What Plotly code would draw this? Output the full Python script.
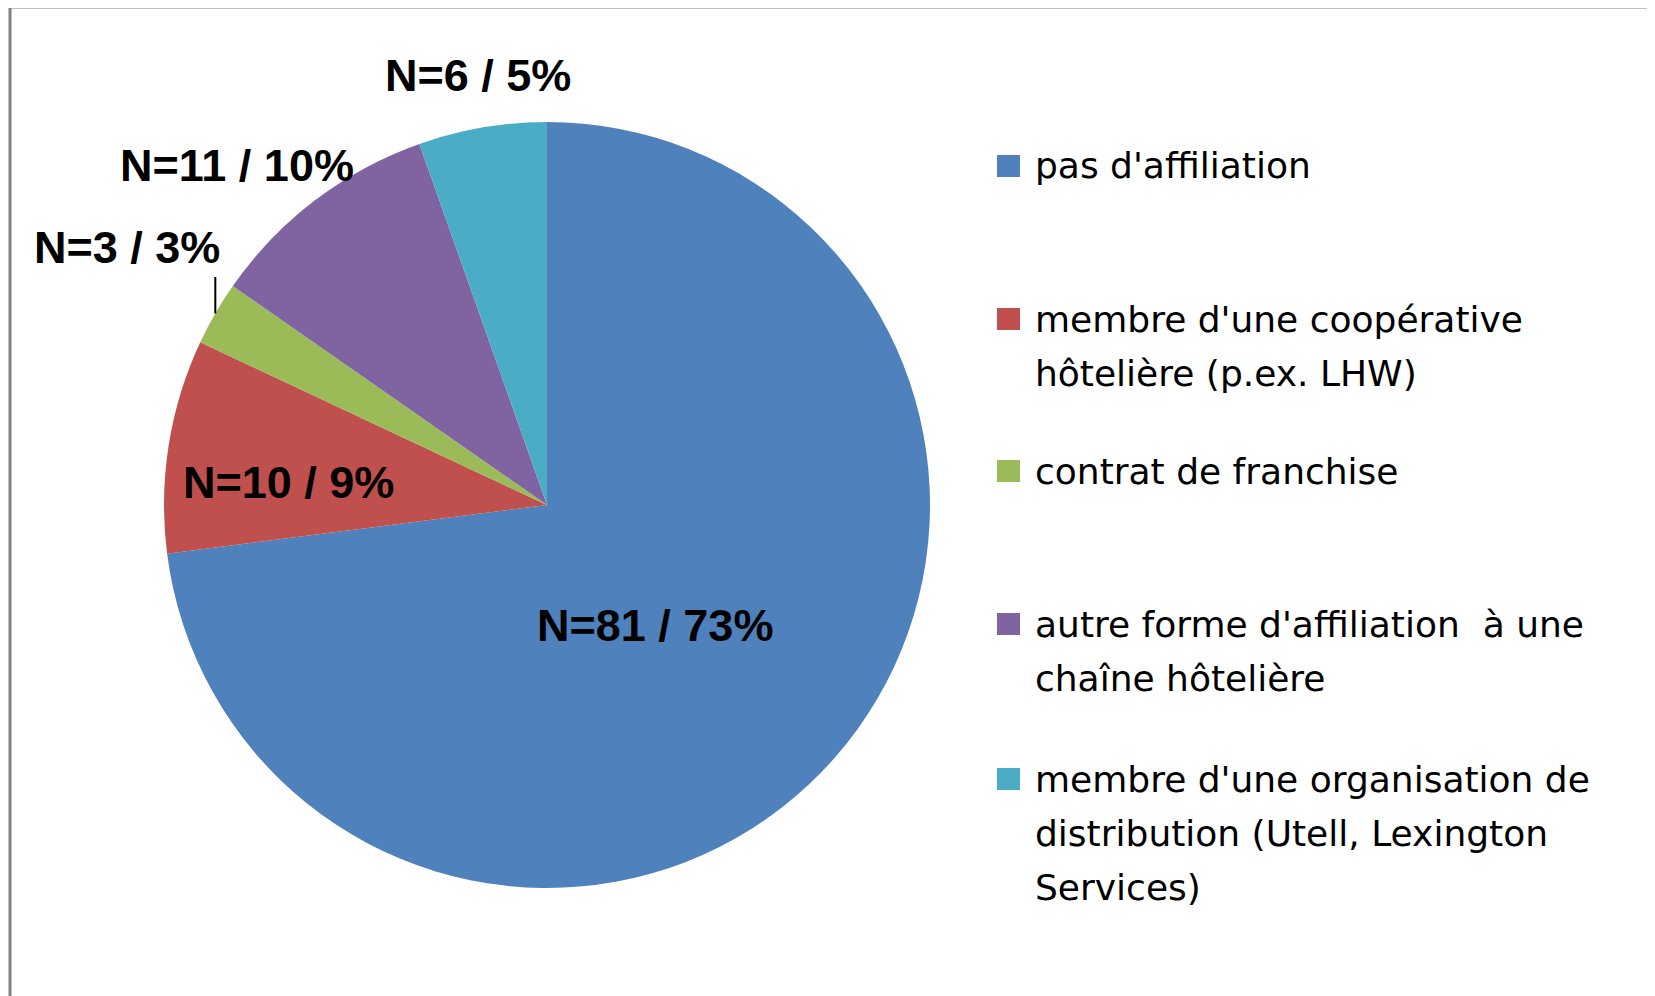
import math
import plotly.graph_objects as go

W, H = 1655, 996

# ---- data ----
categories = [
    "pas d'affiliation",
    "membre d'une coopérative<br>hôtelière (p.ex. LHW)",
    "contrat de franchise",
    "autre forme d'affiliation  à une<br>chaîne hôtelière",
    "membre d'une organisation de<br>distribution (Utell, Lexington<br>Services)",
]
counts = [81, 10, 3, 11, 6]
percent_labels = ["73%", "9%", "3%", "10%", "5%"]
colors = ["#4F81BD", "#C0504D", "#9BBB59", "#8064A2", "#4BACC6"]

# ---- layout helpers (page pixel -> paper; page body has 8px margin) ----
OFF = 8

def px(x):
    return (x - OFF) / W

def py(y):
    return 1 - (y - OFF) / H

cx, cy, R = 547, 505, 383

fig = go.Figure(go.Pie(
    labels=[c.replace("<br>", " ") for c in categories],
    values=counts,
    sort=False,
    direction="clockwise",
    rotation=0,
    marker=dict(colors=colors, line=dict(width=0)),
    textinfo="none",
    textposition="none",
    hoverinfo="label+value+percent",
    showlegend=False,
    domain=dict(x=[px(cx - R), px(cx + R)], y=[py(cy + R), py(cy - R)]),
))

# data label anchor positions (pixel centres of the text)
label_pos = [(655, 625), (288, 483), (127, 247), (237, 166), (478, 76)]
annotations = []
for n, pct, (lx, ly) in zip(counts, percent_labels, label_pos):
    annotations.append(dict(
        x=px(lx), y=py(ly), xref="paper", yref="paper",
        text=f"N={n} / {pct}", showarrow=False,
        xanchor="center", yanchor="middle",
        font=dict(family="Liberation Sans", size=45, color="#000000", weight="bold"),
    ))

# leader line for the small green slice, from the slice's mid angle
total = sum(counts)
cum = sum(counts[:2])
mid = (cum + counts[2] / 2) / total * 2 * math.pi
ex = cx + R * math.sin(mid)
ey = cy - R * math.cos(mid)
shapes = [dict(type="line", xref="paper", yref="paper",
               x0=px(ex), y0=py(ey), x1=px(ex), y1=py(277),
               line=dict(color="#000000", width=2))]

# legend drawn manually (Excel-like even spacing)
legend_starts = [166, 319, 471, 624, 779]
line_gap = 54
for cat, col, y0 in zip(categories, colors, legend_starts):
    shapes.append(dict(type="rect", xref="paper", yref="paper",
                       x0=px(997), x1=px(1020), y0=py(y0 - 11), y1=py(y0 + 11),
                       fillcolor=col, line=dict(width=0)))
    for i, line in enumerate(cat.split("<br>")):
        annotations.append(dict(
            x=px(1033), y=py(y0 + i * line_gap), xref="paper", yref="paper",
            text=line, showarrow=False, xanchor="left", yanchor="middle",
            font=dict(family="DejaVu Sans", size=36, color="#000000"),
        ))

# chart-area border (left and top edges visible)
shapes.append(dict(type="line", xref="paper", yref="paper",
                   x0=px(10), x1=px(10), y0=-0.05, y1=py(6),
                   line=dict(color="#808080", width=3)))
shapes.append(dict(type="line", xref="paper", yref="paper",
                   x0=px(9), x1=1.05, y0=py(7), y1=py(7),
                   line=dict(color="#808080", width=3)))

fig.update_layout(
    width=W, height=H,
    margin=dict(l=0, r=0, t=0, b=0),
    paper_bgcolor="#FFFFFF",
    plot_bgcolor="#FFFFFF",
    annotations=annotations,
    shapes=shapes,
)

fig.write_html("out.html")
